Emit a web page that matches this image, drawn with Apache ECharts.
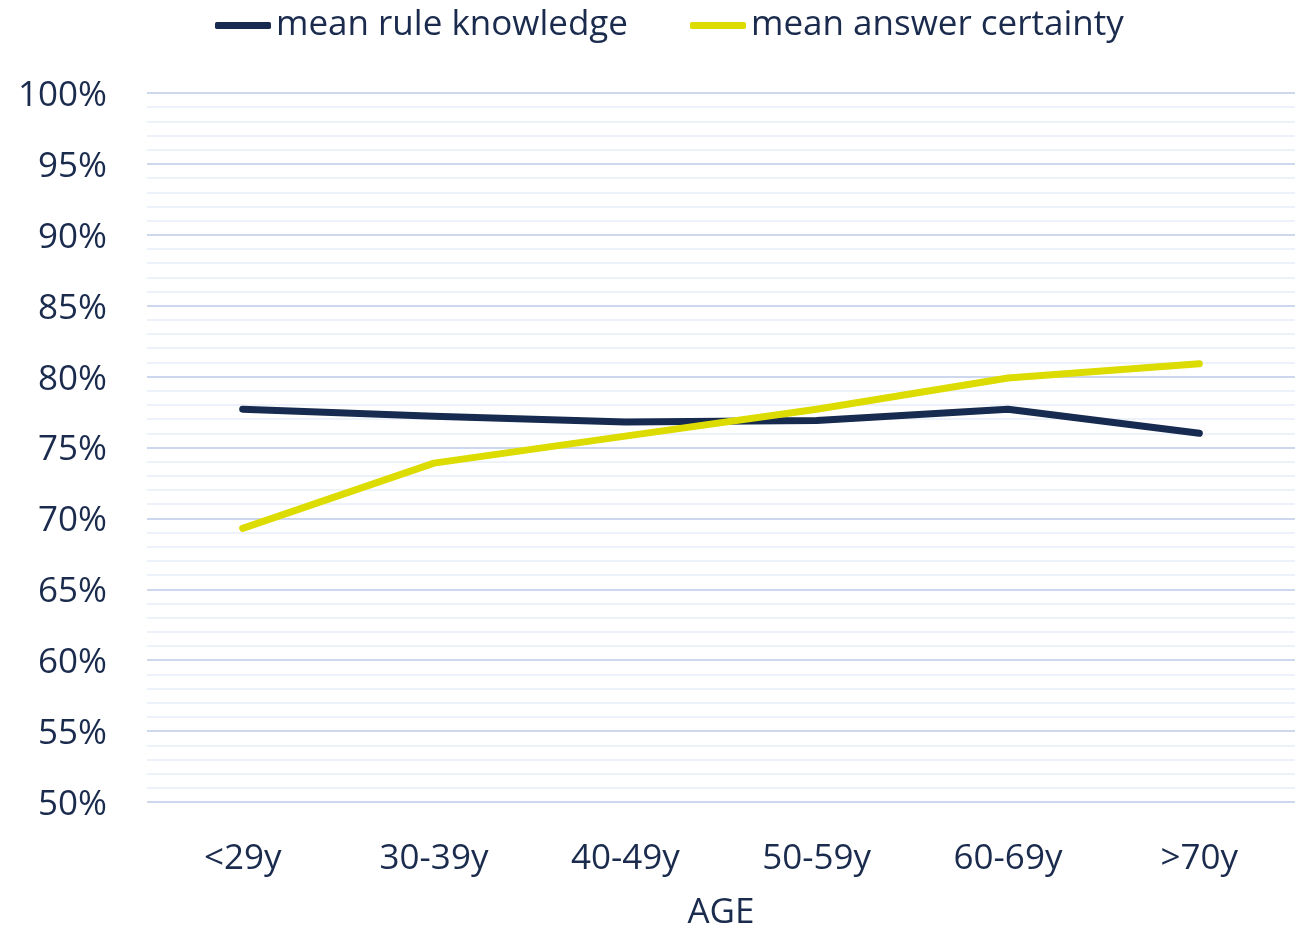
<!DOCTYPE html>
<html>
<head>
<meta charset="utf-8">
<script src="https://cdn.jsdelivr.net/npm/echarts@6/dist/echarts.min.js"></script>
<style>
  html, body { margin: 0; padding: 0; background: #fff; }
  #chart { width: 1302px; height: 929px; }
</style>
</head>
<body>
<div id="chart"></div>
<script>
  // data
  const ageGroups = ['<29y', '30-39y', '40-49y', '50-59y', '60-69y', '>70y'];
  const ruleKnowledge = [77.7, 77.2, 76.8, 76.9, 77.7, 76.0];
  const answerCertainty = [69.3, 73.9, 75.8, 77.7, 79.9, 80.9];

  const textColor = '#1a2b4d';
  const font = '"Open Sans", "Noto Sans", sans-serif';

  const myChart = echarts.init(document.getElementById('chart'));
  const option = {
    animation: false,
    textStyle: { fontFamily: font, color: textColor },
    legend: {
      top: 3,
      left: 210,
      icon: 'roundRect',
      itemWidth: 56,
      itemHeight: 7,
      itemGap: 62,
      textStyle: { fontSize: 35, color: textColor, fontFamily: font },
      data: ['mean rule knowledge', 'mean answer certainty']
    },
    grid: { left: 147, right: 7, top: 93, bottom: 127, containLabel: false, outerBoundsMode: 'none' },
    xAxis: {
      type: 'category',
      data: ageGroups,
      name: 'AGE',
      nameLocation: 'middle',
      nameGap: 94,
      nameTextStyle: { fontSize: 35, color: textColor, fontFamily: font },
      axisLine: { show: false },
      axisTick: { show: false },
      axisLabel: { fontSize: 35, color: textColor, margin: 40, fontFamily: font }
    },
    yAxis: {
      type: 'value',
      min: 50,
      max: 100,
      interval: 5,
      axisLabel: {
        margin: 40,
        formatter: '{a|{value}%}',
        rich: { a: { fontSize: 35, color: textColor, fontFamily: font, padding: [6, 0, 0, 0] } }
      },
      splitLine: { lineStyle: { color: '#cdd8ef', width: 2 } },
      minorTick: { show: false, splitNumber: 5 },
      minorSplitLine: { show: true, lineStyle: { color: '#edf1f9', width: 2 } }
    },
    series: [
      {
        name: 'mean rule knowledge',
        type: 'line',
        data: ruleKnowledge,
        symbol: 'none',
        color: '#172a4f',
        lineStyle: { width: 7, cap: 'round', join: 'round' }
      },
      {
        name: 'mean answer certainty',
        type: 'line',
        data: answerCertainty,
        symbol: 'none',
        color: '#dcdc00',
        lineStyle: { width: 7, cap: 'round', join: 'round' }
      }
    ]
  };
  myChart.setOption(option);
</script>
</body>
</html>
